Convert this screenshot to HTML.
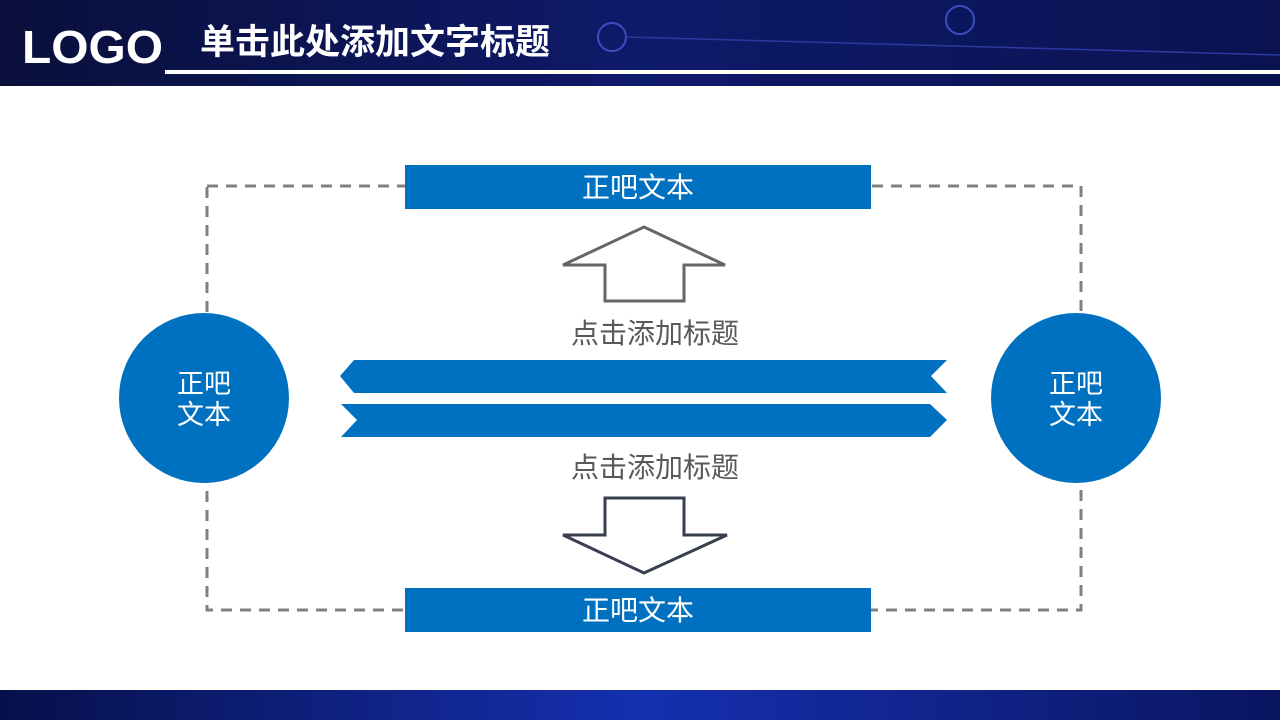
<!DOCTYPE html>
<html><head><meta charset="utf-8"><style>
body{margin:0;width:1280px;height:720px;overflow:hidden;background:#fff;font-family:"Liberation Sans","Noto Sans CJK SC",sans-serif;}
</style></head><body>
<svg width="1280" height="720" viewBox="0 0 1280 720" xmlns="http://www.w3.org/2000/svg" style="display:block">
<defs>
<linearGradient id="hd" x1="0" y1="0" x2="1" y2="0">
<stop offset="0" stop-color="#0a0f3a"/><stop offset="0.5" stop-color="#0e1a6a"/><stop offset="1" stop-color="#0a1350"/>
</linearGradient>
<linearGradient id="ft" x1="0" y1="0" x2="1" y2="0">
<stop offset="0" stop-color="#07104a"/><stop offset="0.5" stop-color="#1530b0"/><stop offset="1" stop-color="#0a1560"/>
</linearGradient>
</defs>
<rect x="0" y="0" width="1280" height="86" fill="url(#hd)"/>
<circle cx="612" cy="37" r="14" fill="none" stroke="#3a4ec0" stroke-width="2"/>
<circle cx="960" cy="20" r="14" fill="none" stroke="#3a4ec0" stroke-width="2"/>
<line x1="626" y1="37" x2="1280" y2="55" stroke="#2a3aa0" stroke-width="1.5"/>
<rect x="165" y="70" width="1115" height="4" fill="#fff"/>
<text x="22" y="63" font-size="46" font-weight="bold" fill="#fff" font-family="Liberation Sans,sans-serif" textLength="141" lengthAdjust="spacingAndGlyphs">LOGO</text>
<text x="200" y="54" font-size="35" font-weight="bold" fill="#fff">单击此处添加文字标题</text>
<rect x="0" y="690" width="1280" height="30" fill="url(#ft)"/>

<rect x="207" y="186" width="874" height="424" fill="none" stroke="#808080" stroke-width="3" stroke-dasharray="11,8"/>

<rect x="405" y="165" width="466" height="44" fill="#0070c0"/>
<text x="638" y="197" font-size="28" fill="#fff" text-anchor="middle">正吧文本</text>
<rect x="405" y="588" width="466" height="44" fill="#0070c0"/>
<text x="638" y="620" font-size="28" fill="#fff" text-anchor="middle">正吧文本</text>

<polygon points="644,227 725,265 684,265 684,301 605,301 605,265 563,265" fill="#fff" stroke="#666" stroke-width="3"/>
<polygon points="605,498 684,498 684,535 727,535 644,573 563,535 605,535" fill="#fff" stroke="#3a3f4f" stroke-width="3"/>

<text x="655" y="343" font-size="28" fill="#595959" text-anchor="middle">点击添加标题</text>
<text x="655" y="477" font-size="28" fill="#595959" text-anchor="middle">点击添加标题</text>

<polygon points="354,360 947,360 931,376 947,393 354,393 340,376" fill="#0070c0"/>
<polygon points="341,404 930,404 947,420 930,437 341,437 357,420" fill="#0070c0"/>

<circle cx="204" cy="398" r="85" fill="#0070c0"/>
<circle cx="1076" cy="398" r="85" fill="#0070c0"/>
<text x="204" y="393" font-size="27" fill="#fff" text-anchor="middle">正吧</text>
<text x="204" y="424" font-size="27" fill="#fff" text-anchor="middle">文本</text>
<text x="1076" y="393" font-size="27" fill="#fff" text-anchor="middle">正吧</text>
<text x="1076" y="424" font-size="27" fill="#fff" text-anchor="middle">文本</text>
</svg>
</body></html>
